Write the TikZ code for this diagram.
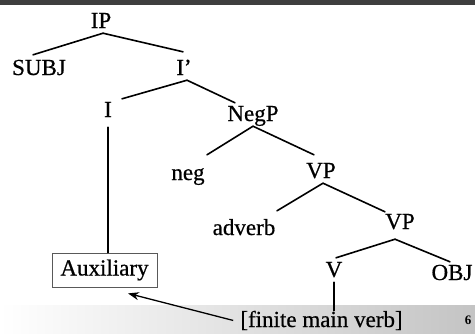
\documentclass[tikz,border=0pt]{standalone}
\usepackage{fontspec}
\setmainfont{Liberation Serif}
\newfontfamily\treefont{Liberation Serif}[FakeBold=0.6]
\usepackage{tikz}
\usetikzlibrary{positioning,arrows.meta}
\definecolor{topbar}{HTML}{3E3E3E}
\definecolor{barend}{HTML}{C4C4C4}
\tikzset{
  cat/.style    ={font=\treefont\fontsize{23}{27}\selectfont, anchor=base, inner xsep=0pt, inner ysep=5pt,
                  text height=15pt, text depth=0pt},
  limb/.style   ={line width=1.6pt, line cap=round},
  auxbox/.style ={draw=black!65, line width=0.8pt, font=\treefont\fontsize{23}{27}\selectfont,
                  minimum width=105pt, minimum height=34pt, inner sep=0pt},
  note/.style   ={font=\treefont\fontsize{23}{27}\selectfont, anchor=base, inner xsep=7pt, inner ysep=0pt},
  ptr/.style    ={-{Stealth[length=11pt,width=8pt]}, line width=1.3pt},
  pgnum/.style  ={font=\fontsize{13}{15}\selectfont\bfseries, anchor=base, inner sep=0pt},
}

\begin{document}
\begin{tikzpicture}[x=1pt,y=-1pt]
\useasboundingbox (0,0) rectangle (475,333);
\shade[left color=white, right color=barend] (0,305) rectangle (475,333);
\fill[topbar] (0,0) rectangle (475,5);

\node[cat] (ip)   at (101,28)  {IP};
\node[cat] (subj) at (39,75)   {SUBJ};
\node[cat] (ibar) at (184,75)  {I’};
\node[cat] (infl) at (108,117) {I};
\node[cat] (negp) at (253,121) {NegP};
\node[cat] (neg)  at (188,180) {neg};
\node[cat] (vp)   at (321,178) {VP};
\node[cat] (adv)  at (244,235) {adverb};
\node[cat] (vpb)  at (400,229) {VP};
\node[cat] (verb) at (334,277) {V};
\node[cat] (obj)  at (452,280) {OBJ};
\node[auxbox] (aux) at (104.5,270) {Auxiliary};
\node[note] (fmv) at (321.5,327) {[finite main verb]};
\node[pgnum] (pg) at (468,324) {6};

\draw[limb] ([xshift=2pt]ip.south) -- ([xshift=-6pt]subj.north);
\draw[limb] ([xshift=2pt]ip.south) -- ([shift={(-1pt,3pt)}]ibar.north);
\draw[limb] ([xshift=3pt]ibar.south) -- ([shift={(14pt,-2pt)}]infl.north);
\draw[limb] ([xshift=3pt]ibar.south) -- ([shift={(-18pt,-2pt)}]negp.north);
\draw[limb] (negp.south) -- ([shift={(19pt,5pt)}]neg.north);
\draw[limb] (negp.south) -- ([shift={(-7pt,3pt)}]vp.north);
\draw[limb] ([xshift=2pt]vp.south) -- ([shift={(33pt,4pt)}]adv.north);
\draw[limb] ([xshift=2pt]vp.south) -- ([shift={(-15pt,-3pt)}]vpb.north);
\draw[limb] ([shift={(-5pt,-5pt)}]vpb.south) -- ([shift={(2pt,-1pt)}]verb.north);
\draw[limb] ([shift={(-5pt,-5pt)}]vpb.south) -- ([shift={(-2pt,-2pt)}]obj.north);
\draw[limb] ([yshift=-5pt]infl.south) -- (infl.south |- aux.north);
\draw[limb] (verb.south) -- (verb.south |- fmv.north);
\draw[ptr] (fmv.west) -- ([shift={(23.5pt,-6pt)}]aux.south);
\end{tikzpicture}
\end{document}
